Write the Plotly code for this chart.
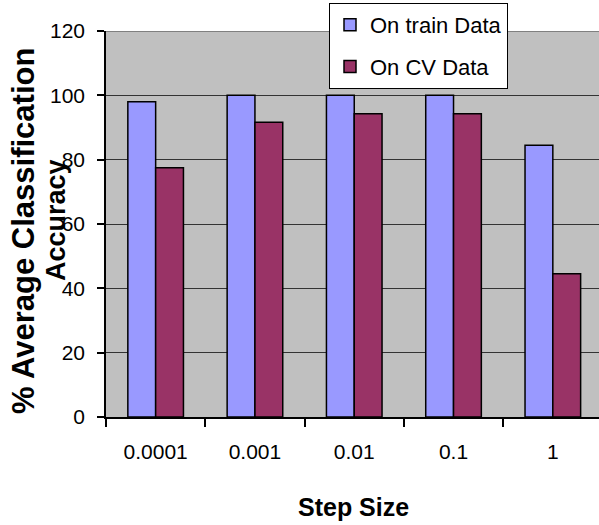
import plotly.graph_objects as go

step_sizes = ["0.0001", "0.001", "0.01", "0.1", "1"]
train_acc = [98, 100, 100, 100, 84.5]
cv_acc = [77.5, 91.6, 94.3, 94.3, 44.5]
y_ticks = [0, 20, 40, 60, 80, 100, 120]

W, H = 599, 525
L, R, T, B = 106, 0, 31, 108
PW, PH = W - L - R, H - T - B

SANS = "Liberation Sans, Arial, sans-serif"

fig = go.Figure()
fig.add_bar(x=step_sizes, y=train_acc, name="On train Data", legendgroup="train",
            marker=dict(color="#9999FF", line=dict(color="black", width=1.5)))
fig.add_bar(x=step_sizes, y=cv_acc, name="On CV Data", legendgroup="cv",
            marker=dict(color="#993366", line=dict(color="black", width=1.5)))

def px_x(px):
    return (px - L) / PW

def px_y(py):
    return (H - B - py) / PH

fig.update_layout(
    width=W, height=H,
    margin=dict(l=L, r=R, t=T, b=B, pad=0),
    plot_bgcolor="#C0C0C0", paper_bgcolor="white",
    barmode="group", bargap=0.44, bargroupgap=0,
    showlegend=True,
    legend=dict(
        x=px_x(329), y=px_y(3), xanchor="left", yanchor="top",
        bgcolor="white", bordercolor="black", borderwidth=1,
        font=dict(family=SANS, size=22, color="black"),
        tracegroupgap=10, traceorder="grouped", itemwidth=30,
    ),
    xaxis=dict(
        type="category", range=[-0.5, 4.465],
        tickson="boundaries", ticks="outside", ticklen=8, tickwidth=1.5, tickcolor="black",
        showline=True, linecolor="black", linewidth=1.5,
        showgrid=False, zeroline=False,
        tickfont=dict(family=SANS, size=21, color="black"),
        ticklabelstandoff=15,
    ),
    yaxis=dict(
        range=[0, 120], tickvals=y_ticks, ticks="outside", ticklen=7, tickwidth=1.5,
        tickcolor="black", showline=True, linecolor="black", linewidth=1.5,
        showgrid=True, gridcolor="#333333", gridwidth=1, zeroline=False,
        tickfont=dict(family=SANS, size=21, color="black"),
        ticklabelstandoff=8,
    ),
    shapes=[dict(type="line", xref="paper", yref="y", x0=0, x1=1, y0=120, y1=120,
                 line=dict(color="#808080", width=2), layer="above")],
    annotations=[
        dict(text="<b>Step Size</b>", xref="paper", yref="paper",
             x=px_x(353), y=px_y(507), xanchor="center", yanchor="middle",
             showarrow=False, font=dict(family=SANS, size=25, color="black")),
        dict(text="<b>% Average Classification</b>", xref="paper", yref="paper",
             x=px_x(23), y=px_y(231), xanchor="center", yanchor="middle", textangle=-90,
             showarrow=False, font=dict(family=SANS, size=31, color="black")),
        dict(text="<b>Accuracy</b>", xref="paper", yref="paper",
             x=px_x(56), y=px_y(220), xanchor="center", yanchor="middle", textangle=-90,
             showarrow=False, font=dict(family=SANS, size=27, color="black")),
    ],
)

fig.write_html("out.html")
